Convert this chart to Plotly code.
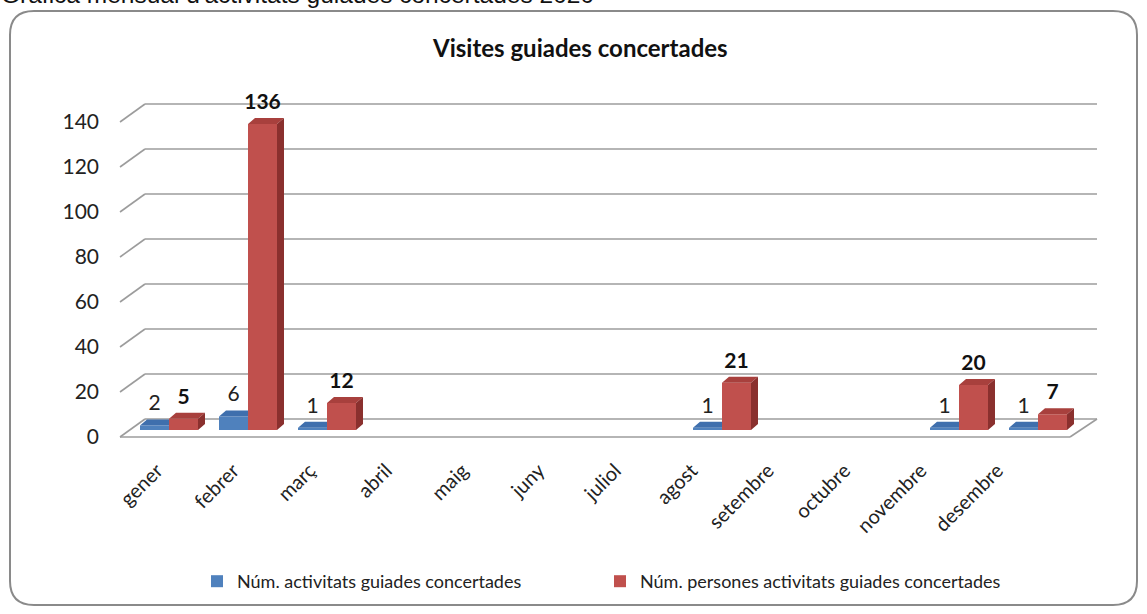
import plotly.graph_objects as go

# ---------------- data ----------------
months = ["gener", "febrer", "març", "abril", "maig", "juny", "juliol",
          "agost", "setembre", "octubre", "novembre", "desembre"]
activitats = [2, 6, 1, None, None, None, None, 1, None, None, 1, 1]
persones = [5, 136, 12, None, None, None, None, 21, None, None, 20, 7]
y_ticks = [0, 20, 40, 60, 80, 100, 120, 140]

name_act = "Núm. activitats guiades concertades"
name_per = "Núm. persones activitats guiades concertades"
chart_title = "Visites guiades concertades"
caption = "Gràfica mensual d'activitats guiades concertades 2020"

# ---------------- geometry (pixels) ----------------
W, H = 1147, 614
ML, MR, MT, MB = 120, 50, 100, 174
PW = W - ML - MR
PH = H - MT - MB
PX_PER_CAT = 79.0
PX_PER_UNIT = 2.25
BASE_PY = 430  # pixel row of value 0 for bars

def pxx(px):
    return (px - ML) / PW

def pxy(py):
    return (H - MB - py) / PH

x0_val = (ML - 169) / PX_PER_CAT
x1_val = (ML + PW - 169) / PX_PER_CAT
y0_val = -((H - MB) - BASE_PY) / PX_PER_UNIT
y1_val = (BASE_PY - MT) / PX_PER_UNIT

BW = 29 / PX_PER_CAT           # bar width in category units
DX = 7 / PX_PER_CAT            # depth offset x
DY = 6 / PX_PER_UNIT           # depth offset y
LAB_OFF = 4 / PX_PER_UNIT      # extra gap above bars for value labels
FRONT_OFF = -(437 - BASE_PY) / PX_PER_UNIT   # front floor edge
BACK_OFF = (BASE_PY - 419) / PX_PER_UNIT     # back wall
back_x = pxx(145)
front_end_x = pxx(1070)

blue, blue_top = "#4F81BD", "#3F6FAD"
red, red_top, red_side = "#C0504D", "#A8403D", "#8A302E"

xs = list(range(len(months)))
blue_x = [i - BW / 2 for i in xs]
red_x = [i + BW / 2 for i in xs]
# category label anchors follow the slightly compressed projection of the front edge
label_pos = [i * 0.967 - 12 / PX_PER_CAT for i in xs]

fig = go.Figure()

# front faces
fig.add_trace(go.Bar(x=blue_x, y=activitats, width=BW, name=name_act,
                     marker=dict(color=blue, line=dict(width=0))))
fig.add_trace(go.Bar(x=red_x, y=persones, width=BW, name=name_per,
                     marker=dict(color=red, line=dict(width=0))))

def poly_trace(pts_list, color):
    px, py = [], []
    for pts in pts_list:
        for (a, b) in pts:
            px.append(a)
            py.append(b)
        px.append(pts[0][0]); py.append(pts[0][1])
        px.append(None); py.append(None)
    return go.Scatter(x=px, y=py, mode="lines", fill="toself", fillcolor=color,
                      line=dict(width=0, color=color), hoverinfo="skip",
                      showlegend=False)

# blue tops (clipped where red bar sits in front)
b_tops = []
for c, v in zip(blue_x, activitats):
    if v is None:
        continue
    l, r = c - BW / 2, c + BW / 2
    b_tops.append([(l, v), (r, v), (r, v + DY), (l + DX, v + DY)])
fig.add_trace(poly_trace(b_tops, blue_top))

r_tops, r_sides = [], []
for c, v in zip(red_x, persones):
    if v is None:
        continue
    l, r = c - BW / 2, c + BW / 2
    r_tops.append([(l, v), (r, v), (r + DX, v + DY), (l + DX, v + DY)])
    r_sides.append([(r, 0), (r + DX, DY), (r + DX, v + DY), (r, v)])
fig.add_trace(poly_trace(r_tops, red_top))
fig.add_trace(poly_trace(r_sides, red_side))

# value labels
lab_font = "Lato, Carlito, Calibri, sans-serif"
fig.add_trace(go.Scatter(
    x=blue_x, y=[None if v is None else v + DY + LAB_OFF for v in activitats],
    text=[None if v is None else str(v) for v in activitats],
    mode="text", textposition="top center", showlegend=False, hoverinfo="skip",
    cliponaxis=False,
    textfont=dict(family=lab_font, size=21, color="#222222")))
fig.add_trace(go.Scatter(
    x=red_x, y=[None if v is None else v + DY + LAB_OFF for v in persones],
    text=[None if v is None else f"<b>{v}</b>" for v in persones],
    mode="text", textposition="top center", showlegend=False, hoverinfo="skip",
    cliponaxis=False,
    textfont=dict(family=lab_font, size=21, color="#111111")))

# walls / gridlines
shapes = []
gcol = "#9C9C9C"
for t in y_ticks:
    shapes.append(dict(type="line", xref="paper", yref="y",
                       x0=back_x, x1=1.0, y0=t + BACK_OFF, y1=t + BACK_OFF,
                       line=dict(color=gcol, width=1.6), layer="below"))
    shapes.append(dict(type="line", xref="paper", yref="y",
                       x0=0.0, x1=back_x, y0=t + FRONT_OFF, y1=t + BACK_OFF,
                       line=dict(color=gcol, width=1.6), layer="below"))
# floor front edge
shapes.append(dict(type="line", xref="paper", yref="y", x0=0.0, x1=front_end_x,
                   y0=FRONT_OFF, y1=FRONT_OFF, line=dict(color=gcol, width=1.6),
                   layer="below"))
shapes.append(dict(type="line", xref="paper", yref="y", x0=front_end_x, x1=1.0,
                   y0=FRONT_OFF, y1=BACK_OFF, line=dict(color=gcol, width=1.6),
                   layer="below"))

# outer rounded border
bx0, by0, bx1, by1, rad = 10, 11, 1137, 605, 24
def P(px, py):
    return f"{pxx(px):.5f},{pxy(py):.5f}"
path = (f"M {P(bx0 + rad, by0)} L {P(bx1 - rad, by0)} "
        f"Q {P(bx1, by0)} {P(bx1, by0 + rad)} L {P(bx1, by1 - rad)} "
        f"Q {P(bx1, by1)} {P(bx1 - rad, by1)} L {P(bx0 + rad, by1)} "
        f"Q {P(bx0, by1)} {P(bx0, by1 - rad)} L {P(bx0, by0 + rad)} "
        f"Q {P(bx0, by0)} {P(bx0 + rad, by0)} Z")
shapes.append(dict(type="path", xref="paper", yref="paper", path=path,
                   line=dict(color="#8A8A8A", width=2), layer="below"))

annotations = [
    dict(text=f"<b>{chart_title}</b>", xref="paper", yref="paper",
         x=pxx(580), y=pxy(47), xanchor="center", yanchor="middle",
         showarrow=False, font=dict(family=lab_font, size=24, color="#111111")),
    dict(text=caption, xref="paper", yref="paper",
         x=pxx(-1), y=pxy(10), xanchor="left", yanchor="bottom",
         showarrow=False, font=dict(family="Liberation Sans, Arial, sans-serif",
                                    size=24.5, color="#111111")),
]

fig.update_layout(
    width=W, height=H,
    margin=dict(l=ML, r=MR, t=MT, b=MB, pad=0),
    paper_bgcolor="white", plot_bgcolor="rgba(0,0,0,0)",
    barmode="overlay",
    shapes=shapes, annotations=annotations,
    showlegend=True,
    legend=dict(orientation="h", x=pxx(197), y=pxy(563), xanchor="left",
                yanchor="top", entrywidth=358, entrywidthmode="pixels",
                itemwidth=30, traceorder="normal",
                font=dict(family=lab_font, size=18, color="#222222")),
    xaxis=dict(range=[x0_val, x1_val], tickmode="array", tickvals=label_pos,
               ticktext=months, tickangle=-45, showgrid=False, zeroline=False,
               showline=False, ticks="", ticklabelstandoff=14,
               tickfont=dict(family=lab_font, size=20, color="#222222")),
    yaxis=dict(range=[y0_val, y1_val], tickmode="array",
               tickvals=[t + FRONT_OFF for t in y_ticks],
               ticktext=[str(t) for t in y_ticks], showgrid=False,
               zeroline=False, showline=False, ticks="", ticklabelstandoff=20,
               tickfont=dict(family=lab_font, size=21, color="#222222")),
)

fig.write_html("out.html", config={"displayModeBar": False},
               post_script="document.body.style.margin='0';")
